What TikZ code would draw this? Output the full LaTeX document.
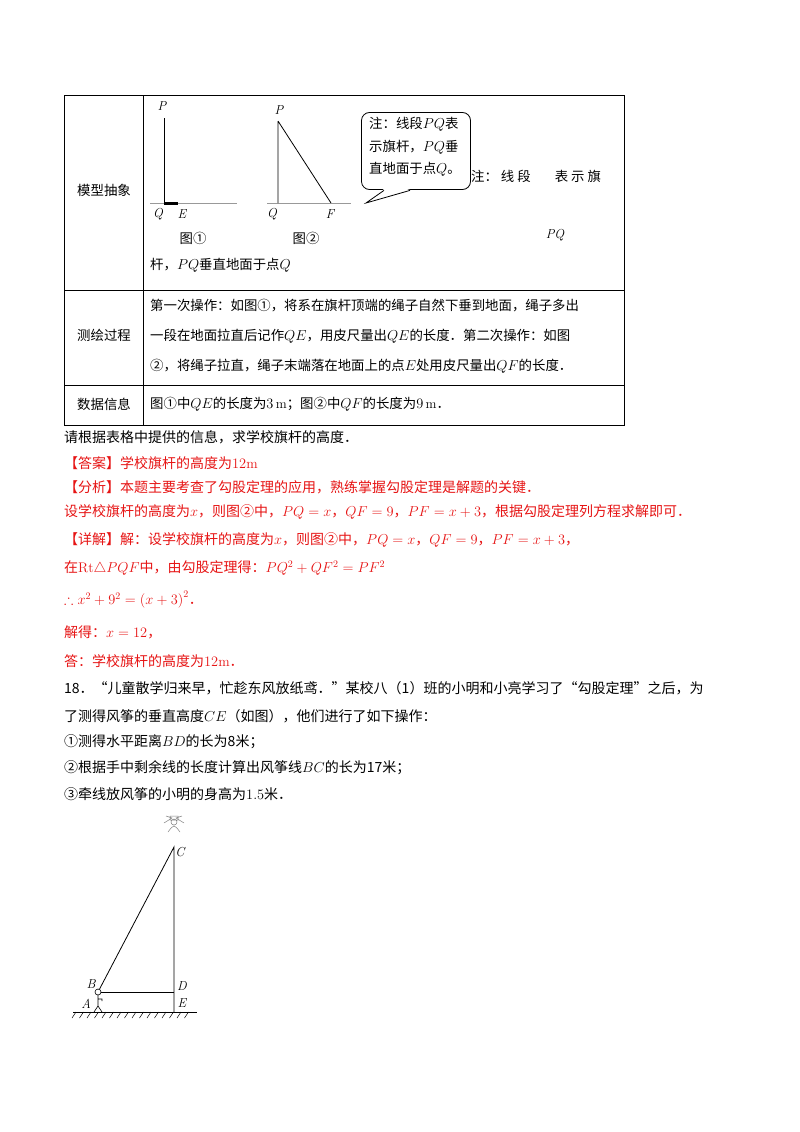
\documentclass[tikz,border=0pt]{standalone}
\usepackage{fontspec}
\usepackage{amsmath,amssymb}
\newfontfamily\cjk{Noto Sans CJK SC}
\usepackage{tikz}
\usetikzlibrary{shapes.callouts, positioning}
\definecolor{ansred}{RGB}{230,20,20}
\begin{document}
\begin{tikzpicture}[
        x=1pt, y=-1pt,
        every node/.style={inner sep=0pt, font=\cjk\fontsize{14}{16}\selectfont},
        line/.style={anchor=west},
        cell/.style={anchor=west, font=\cjk\fontsize{13.4}{16}\selectfont},
        red line/.style={anchor=west, text=ansred},
        ground/.style={draw=gray!80, line width=0.8pt},
        pole/.style={draw=black, line width=0.8pt},
        lbl/.style={font=\fontsize{13}{14}\selectfont\itshape},
    ]
        \useasboundingbox (0,0) rectangle (800,1132);
        % table
        \draw[line width=0.8pt] (64,95) rectangle (624,425);
        \draw[line width=0.8pt] (143,95) -- (143,425);
        \draw[line width=0.8pt] (64,290) -- (624,290);
        \draw[line width=0.8pt] (64,385) -- (624,385);
        \node[cell, anchor=center] (row1) at (104,190) {模型抽象};
        \node[cell, anchor=center] (row2) at (104,335) {测绘过程};
        \node[cell, anchor=center] (row3) at (104,404) {数据信息};

        % figure 1
        \coordinate (p1) at (164,118);
        \coordinate (q1) at (164,203);
        \coordinate (e1) at (178,203);
        \draw[ground] (150,203) -- (237,203);
        \draw[pole] (p1) -- (q1);
        \draw[line width=3pt] (q1) -- (e1);
        \node[lbl] (lp1) at (162,106) {P};
        \node[lbl] (lq1) at (158,214) {Q};
        \node[lbl] (le1) at (182,214) {E};
        \node[cell, anchor=center] (fig1) at (193,238) {图①};

        % figure 2
        \coordinate (p2) at (278,121);
        \coordinate (q2) at (278,203);
        \coordinate (f2) at (331,203);
        \draw[ground] (267,203) -- (351,203);
        \draw[pole] (p2) -- (q2) (p2) -- (f2);
        \node[lbl] (lp2) at (279,110) {P};
        \node[lbl] (lq2) at (272,214) {Q};
        \node[lbl] (lf2) at (330,214) {F};
        \node[cell, anchor=center] (fig2) at (306,238) {图②};

        % callout
        \node[draw, rounded corners=8pt, line width=0.8pt, fill=white,
            minimum width=109pt, minimum height=77pt] (note) at (416,151) {};
        \fill[white] (384,189) -- (366,203) -- (410,189) -- cycle;
        \draw[line width=0.8pt] (384,190.4) -- (366,203) -- (410,190.4);
        \node[cell] (n1) at (369,124) {注：线段$PQ$表};
        \node[cell] (n2) at (369,147) {示旗杆，$PQ$垂};
        \node[cell] (n3) at (369,169) {直地面于点$Q$。};
        \node[cell] (s1) at (471,176) {注：\hspace{3pt}线\hspace{3pt}段\hspace{24pt}表\hspace{3pt}示\hspace{3pt}旗};
        \node[lbl] (s2) at (555,235) {PQ};
        \node[cell] (s3) at (150,265) {杆，$PQ$垂直地面于点$Q$};

        % row 2
        \node[cell] (r2a) at (150,306) {第一次操作：如图①，将系在旗杆顶端的绳子自然下垂到地面，绳子多出};
        \node[cell] (r2b) at (150,336) {一段在地面拉直后记作$QE$，用皮尺量出$QE$的长度．第二次操作：如图};
        \node[cell] (r2c) at (150,366) {②，将绳子拉直，绳子末端落在地面上的点$E$处用皮尺量出$QF$的长度．};
        \node[cell] (r3a) at (150,404) {图①中$QE$的长度为$3\,\mathrm{m}$；图②中$QF$的长度为$9\,\mathrm{m}$．};

        % text
        \node[line] (t1) at (64,437) {请根据表格中提供的信息，求学校旗杆的高度．};
        \node[red line] (t2) at (64,463) {【答案】学校旗杆的高度为$12\mathrm{m}$};
        \node[red line] (t3) at (64,487) {【分析】本题主要考查了勾股定理的应用，熟练掌握勾股定理是解题的关键．};
        \node[red line] (t4) at (64,512) {设学校旗杆的高度为$x$，则图②中，$PQ=x$，$QF=9$，$PF=x+3$，根据勾股定理列方程求解即可．};
        \node[red line] (t5) at (64,540) {【详解】解：设学校旗杆的高度为$x$，则图②中，$PQ=x$，$QF=9$，$PF=x+3$，};
        \node[red line] (t6) at (64,568) {在$\mathrm{Rt}\triangle PQF$中，由勾股定理得：$PQ^2+QF^2=PF^2$};
        \node[red line] (t7) at (64,600) {$\therefore x^2+9^2=\left(x+3\right)^2$．};
        \node[red line] (t8) at (64,632) {解得：$x=12$，};
        \node[red line] (t9) at (64,661) {答：学校旗杆的高度为$12\mathrm{m}$．};
        \node[line] (t10) at (64,688) {18．“儿童散学归来早，忙趁东风放纸鸢．”某校八（1）班的小明和小亮学习了“勾股定理”之后，为};
        \node[line] (t11) at (64,716) {了测得风筝的垂直高度$CE$（如图），他们进行了如下操作：};
        \node[line] (t12) at (64,742) {①测得水平距离$BD$的长为8米；};
        \node[line] (t13) at (64,768) {②根据手中剩余线的长度计算出风筝线$BC$的长为17米；};
        \node[line] (t14) at (64,794) {③牵线放风筝的小明的身高为$1.5$米．};

        % kite figure
        \coordinate (C) at (174,847);
        \coordinate (D) at (174,992);
        \coordinate (E) at (174,1012);
        \node[draw, circle, minimum size=6pt, line width=0.6pt] (B) at (98,992) {};
        \draw[line width=0.8pt] (B) -- (C) -- (E);
        \draw[line width=0.8pt] (B) -- (D);
        \draw[line width=0.6pt] (98,995) -- (98,1006) (98,999) -- (102,999) -- (102,1001)
            (94,1012) -- (98,1006) -- (102,1012);
        \draw[line width=0.8pt] (73,1012) -- (197,1012);
        \foreach \i in {0,...,15} {\draw[line width=0.5pt] (76+7.5*\i,1012) -- (72+7.5*\i,1018);}
        \draw[gray, line width=0.5pt] (164,823) -- (172,818) -- (166,816) (184,823) -- (176,818) -- (182,816)
            (170,816) rectangle (178,820) (174,822) circle (3pt) (168,832) .. controls (174,824) .. (180,832);
        \node[lbl] (lC) at (180,852) {C};
        \node[lbl] (lB) at (91,984) {B};
        \node[lbl] (lD) at (182,986) {D};
        \node[lbl] (lA) at (86,1004) {A};
        \node[lbl] (lE) at (182,1003) {E};
    \end{tikzpicture}
\end{document}
